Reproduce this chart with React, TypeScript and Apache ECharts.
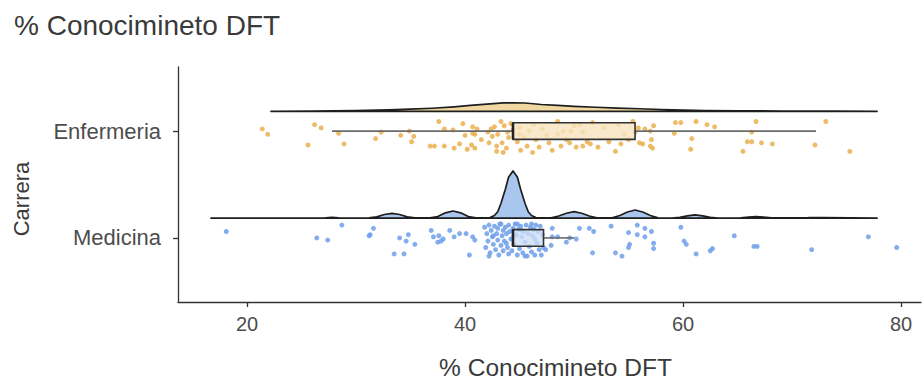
import { useEffect, useRef } from 'react';
import * as echarts from 'echarts';

// ---------- data ----------
const categoryNames = ['Medicina', 'Enfermeria'];
const categoryLevels = [1, 2];
const xTicks = [20, 40, 60, 80];
const xMin = 13.67;
const xMax = 81.83;

// jittered points: [value, vertical jitter]
const enfPoints: number[][] = [
  [21.4, 0.02], [21.9, -0.03], [26.2, 0.06], [26.8, 0.03], [25.6, -0.13], [28.4, -0.02], [28.9, -0.12],
  [32.3, -0.01], [31.8, -0.07], [34.1, -0.04], [34.9, 0.0], [35.3, -0.05], [35.1, -0.1], [37.6, 0.09],
  [38.1, 0.02], [36.8, -0.14], [37.2, -0.14], [38.1, -0.14], [38.9, 0.01], [39.8, 0.07], [41.1, 0.02],
  [40.0, -0.04], [40.7, -0.02], [39.0, -0.16], [39.5, -0.12], [40.2, -0.17], [40.6, -0.13], [40.9, -0.16],
  [40.7, 0.04], [40.9, -0.03], [42.4, 0.02], [42.7, 0.04], [42.5, -0.05], [43.0, -0.03], [42.2, -0.11],
  [42.9, -0.14], [43.4, -0.11], [43.8, -0.16], [43.5, -0.2], [43.9, -0.01], [44.2, 0.07], [43.3, 0.09],
  [45.0, -0.03], [45.4, -0.06], [45.9, 0.0], [45.7, -0.14], [45.1, -0.18], [46.5, -0.08], [46.8, -0.15],
  [46.2, -0.2], [45.0, 0.03], [47.1, 0.02], [47.7, -0.11], [48.0, -0.18], [48.5, 0.09], [48.5, -0.03],
  [49.0, 0.0], [49.3, -0.08], [49.7, 0.0], [50.0, 0.05], [50.5, 0.06], [50.8, -0.01], [51.2, -0.1],
  [51.7, 0.08], [51.5, -0.12], [50.2, -0.15], [50.8, -0.14], [49.6, -0.11], [52.2, -0.15], [54.1, 0.06],
  [54.6, -0.03], [55.0, -0.08], [53.8, -0.19], [54.3, -0.12], [55.4, 0.09], [55.6, -0.01], [55.9, 0.03],
  [56.5, 0.02], [57.0, 0.0], [57.3, 0.05], [57.1, -0.08], [56.0, -0.11], [56.3, -0.12], [57.0, -0.14],
  [57.2, -0.16], [59.3, 0.08], [59.8, 0.08], [61.2, 0.09], [62.2, 0.06], [62.9, 0.04], [59.2, -0.02],
  [60.8, -0.07], [60.7, -0.17], [66.7, 0.09], [66.3, -0.01], [65.9, -0.1], [66.3, -0.1], [67.2, -0.11],
  [68.2, -0.12], [65.5, -0.19], [72.1, -0.13], [73.1, 0.09], [75.3, -0.19], [44.0, -0.06], [44.4, 0.01],
  [44.8, -0.1], [42.9, -0.19], [43.6, 0.05], [46.3, 0.06], [47.5, -0.04], [48.8, -0.14], [52.7, 0.03],
  [53.2, -0.1], [42.1, -0.01], [41.5, -0.08],
];

const medPoints: number[][] = [
  [18.1, 0.06], [26.4, 0.0], [27.4, -0.02], [28.7, 0.12], [31.6, 0.09], [31.3, 0.03], [31.2, 0.02],
  [34.0, 0.0], [34.8, 0.03], [34.6, -0.03], [35.4, -0.06], [33.5, -0.15], [34.4, -0.15], [36.9, 0.07],
  [37.1, 0.01], [37.6, 0.02], [37.8, -0.03], [37.5, -0.04], [38.6, 0.07], [39.0, 0.01], [39.5, 0.04],
  [40.1, 0.04], [40.7, 0.01], [40.9, -0.02], [40.4, -0.16], [38.0, -0.01], [48.0, 0.09], [48.0, 0.01],
  [48.5, 0.01], [49.6, 0.0], [50.2, -0.01], [50.5, 0.09], [51.4, 0.09], [51.8, 0.06], [51.7, -0.14],
  [47.4, -0.11], [53.4, 0.11], [55.0, 0.05], [55.8, 0.12], [55.8, 0.03], [56.5, 0.09], [56.5, 0.01],
  [57.1, 0.06], [53.8, -0.14], [54.4, -0.17], [55.0, -0.09], [55.1, -0.06], [57.3, -0.05], [57.3, -0.1],
  [59.8, 0.1], [60.1, -0.03], [60.3, -0.06], [61.2, -0.15], [62.5, -0.12], [62.7, -0.1], [64.7, 0.02],
  [66.5, -0.08], [66.8, -0.08], [71.8, -0.11], [77.0, 0.01], [79.6, -0.09], [47.9, -0.07], [49.3, -0.04],
  [41.8, 0.1], [42.0, 0.04], [42.1, -0.03], [41.9, -0.09], [42.2, 0.12], [42.3, -0.14], [42.4, 0.07],
  [42.5, 0.01], [42.6, -0.06], [42.7, 0.11], [42.8, -0.11], [42.9, 0.04], [43.0, -0.02], [43.0, 0.09],
  [43.1, -0.16], [43.2, 0.13], [43.3, -0.07], [43.4, 0.02], [43.5, 0.07], [43.5, -0.12], [43.6, -0.03],
  [43.7, 0.1], [43.8, 0.04], [43.9, -0.09], [44.0, -0.15], [44.0, 0.12], [44.1, 0.06], [44.2, -0.01],
  [44.3, -0.12], [44.4, 0.09], [44.5, -0.06], [44.6, 0.13], [44.7, 0.03], [44.8, -0.16], [44.9, 0.08],
  [45.0, -0.1], [45.1, 0.11], [45.2, 0.01], [45.3, -0.14], [45.4, 0.06], [45.5, -0.04], [45.6, 0.12],
  [45.7, -0.17], [45.8, 0.04], [45.9, -0.08], [46.0, 0.1], [46.1, -0.13], [46.2, 0.02], [46.3, 0.08],
  [46.4, -0.16], [46.5, 0.12], [46.6, -0.05], [46.7, 0.06], [46.8, -0.11], [46.9, 0.11], [47.0, -0.16],
  [47.1, 0.03], [47.2, -0.09], [42.2, -0.17], [43.3, 0.13], [44.8, 0.13], [45.5, -0.17], [46.1, 0.13],
  [42.6, 0.02], [43.8, -0.05], [44.5, 0.02], [45.2, 0.07], [46.4, -0.01],
];

// half-violin density outlines (value, density height)
const enfDensityX = [22.2, 26, 30, 33, 35, 37, 39, 40.5, 42, 43.5, 44.5, 45.5, 47, 48.5, 50, 52, 54, 56, 58, 60, 62, 65, 69, 74, 77.8];
const enfDensityH = [0, 0.003, 0.007, 0.014, 0.02, 0.029, 0.042, 0.055, 0.068, 0.079, 0.08, 0.078, 0.064, 0.055, 0.047, 0.038, 0.03, 0.024, 0.017, 0.012, 0.008, 0.005, 0.003, 0.001, 0];

const medDensityX = [
  16.7, 26.5, 27.2, 27.8, 28.4, 29.2, 31.2, 31.9, 32.6, 33.3, 34.0, 34.7, 35.4, 36.8, 37.5, 38.2, 38.9, 39.6,
  40.3, 41.0, 42.3, 42.7, 43.0, 43.3, 43.7, 44.0, 44.4, 44.8, 45.1, 45.5, 45.8, 46.1, 46.5, 47.9, 48.6, 49.3,
  50.0, 50.7, 51.4, 52.1, 53.5, 54.2, 54.9, 55.6, 56.3, 57.0, 57.7, 59.0, 59.7, 60.4, 61.1, 61.8, 62.5, 63.2,
  65.3, 66.0, 66.7, 67.4, 68.1, 71.5, 72.2, 72.9, 77.8,
];
const medDensityH = [
  0, 0, 0.003, 0.008, 0.003, 0.001, 0.002, 0.012, 0.034, 0.045, 0.034, 0.012, 0.002, 0.002, 0.015, 0.05, 0.067, 0.05,
  0.015, 0.003, 0.006, 0.025, 0.06, 0.14, 0.27, 0.385, 0.442, 0.385, 0.27, 0.14, 0.06, 0.025, 0.006, 0.003, 0.02, 0.046,
  0.061, 0.046, 0.02, 0.003, 0.003, 0.025, 0.058, 0.076, 0.058, 0.025, 0.003, 0.001, 0.008, 0.022, 0.031, 0.022, 0.008, 0.001,
  0.003, 0.01, 0.014, 0.01, 0.003, 0.004, 0.006, 0.004, 0,
];

// box statistics: [lower whisker, Q1, median, Q3, upper whisker]
const enfBox = [27.8, 44.4, 44.4, 55.6, 72.2];
const medBox = [44.4, 44.4, 44.4, 47.2, 50.0];

const violinOffset = 0.185;
const boxHalf = 0.078;

const groups = [
  {
    level: 2, points: enfPoints, dx: enfDensityX, dh: enfDensityH, box: enfBox,
    dot: '#EBB04E', violin: '#F1D8A3', boxFill: 'rgba(248,228,190,0.82)',
  },
  {
    level: 1, points: medPoints, dx: medDensityX, dh: medDensityH, box: medBox,
    dot: '#6E9FEA', violin: '#A9C6EF', boxFill: 'rgba(205,222,247,0.78)',
  },
];

const FONT = 'Liberation Sans, Arial, sans-serif';

export default function App() {
  const ref = useRef<HTMLDivElement>(null);
  useEffect(() => {
    const chart = echarts.init(ref.current!, null, { renderer: 'svg' });
    const option: any = {
      animation: false,
      backgroundColor: '#ffffff',
      title: {
        text: '% Conocimineto DFT',
        left: 9,
        top: 6,
        textStyle: { fontSize: 28, fontWeight: 'normal', color: '#3a3a3a', fontFamily: FONT },
      },
      graphic: [
        {
          type: 'text',
          x: 21,
          y: 199,
          rotation: Math.PI / 2,
          style: {
            text: 'Carrera',
            fontSize: 22,
            fill: '#3a3a3a',
            fontFamily: FONT,
            textAlign: 'center',
            textVerticalAlign: 'middle',
          },
        },
      ],
      grid: { left: 178, right: 3, top: 67, bottom: 77, containLabel: false },
      xAxis: {
        type: 'value',
        min: xMin,
        max: xMax,
        splitLine: { show: false },
        axisLine: { show: true, onZero: false, lineStyle: { color: '#333333', width: 1.3 } },
        axisTick: { show: true, length: 5, customValues: xTicks, lineStyle: { color: '#333333', width: 1.3 } },
        axisLabel: { customValues: xTicks, fontSize: 20, color: '#4d4d4d', margin: 12, fontFamily: FONT },
        name: '% Conocimineto DFT',
        nameLocation: 'middle',
        nameGap: 53,
        nameTextStyle: { fontSize: 24.5, color: '#3a3a3a', fontFamily: FONT, padding: [0, 0, 0, 12] },
      },
      yAxis: {
        type: 'value',
        min: 0.4,
        max: 2.6,
        splitLine: { show: false },
        axisLine: { show: true, onZero: false, lineStyle: { color: '#333333', width: 1.3 } },
        axisTick: { show: true, length: 5, customValues: categoryLevels, lineStyle: { color: '#333333', width: 1.3 } },
        axisLabel: {
          customValues: categoryLevels,
          formatter: (v: number) => categoryNames[categoryLevels.indexOf(Math.round(v))] ?? '',
          fontSize: 22,
          color: '#4d4d4d',
          margin: 17,
          fontFamily: FONT,
        },
      },
      series: [
        {
          type: 'custom',
          silent: true,
          z: 1,
          clip: false,
          data: groups.map((g) => [g.box[2], g.level]),
          renderItem: (params: any, api: any) => {
            const g = groups[params.dataIndex];
            const base = g.level + violinOffset;
            const pts: number[][] = [api.coord([g.dx[0], base])];
            g.dx.forEach((x, i) => pts.push(api.coord([x, base + g.dh[i]])));
            pts.push(api.coord([g.dx[g.dx.length - 1], base]));
            return {
              type: 'polygon',
              shape: { points: pts },
              style: { fill: g.violin, stroke: '#1e1e1e', lineWidth: 1.7, lineJoin: 'round' },
            };
          },
        },
        ...groups.map((g) => ({
          type: 'scatter',
          silent: true,
          z: 2,
          symbolSize: 5,
          data: g.points.map(([x, d]) => [x, g.level + d]),
          itemStyle: { color: g.dot, opacity: 0.85 },
        })),
        {
          type: 'custom',
          silent: true,
          z: 3,
          clip: false,
          data: groups.map((g) => [g.box[2], g.level]),
          renderItem: (params: any, api: any) => {
            const g = groups[params.dataIndex];
            const [lo, q1, med, q3, hi] = g.box;
            const y = g.level;
            const pLo = api.coord([lo, y]);
            const pQ1 = api.coord([q1, y]);
            const pQ3 = api.coord([q3, y]);
            const pHi = api.coord([hi, y]);
            const top = api.coord([q1, y + boxHalf])[1];
            const bot = api.coord([q1, y - boxHalf])[1];
            const pMed = api.coord([med, y]);
            const children: any[] = [];
            if (hi > q3) {
              children.push({ type: 'line', shape: { x1: pQ3[0], y1: pQ3[1], x2: pHi[0], y2: pHi[1] }, style: { stroke: '#6a6a6a', lineWidth: 1.6 } });
            }
            if (lo < q1) {
              children.push({ type: 'line', shape: { x1: pLo[0], y1: pLo[1], x2: pQ1[0], y2: pQ1[1] }, style: { stroke: '#6a6a6a', lineWidth: 1.6 } });
            }
            children.push({
              type: 'rect',
              shape: { x: pQ1[0], y: top, width: pQ3[0] - pQ1[0], height: bot - top },
              style: { fill: g.boxFill, stroke: '#333333', lineWidth: 1.6 },
            });
            children.push({ type: 'line', shape: { x1: pMed[0], y1: top, x2: pMed[0], y2: bot }, style: { stroke: '#222222', lineWidth: 2.6 } });
            return { type: 'group', children };
          },
        },
      ],
    };
    chart.setOption(option);
    return () => chart.dispose();
  }, []);
  return <div ref={ref} style={{ position: 'absolute', left: 0, top: 0, width: 924, height: 385 }} />;
}
